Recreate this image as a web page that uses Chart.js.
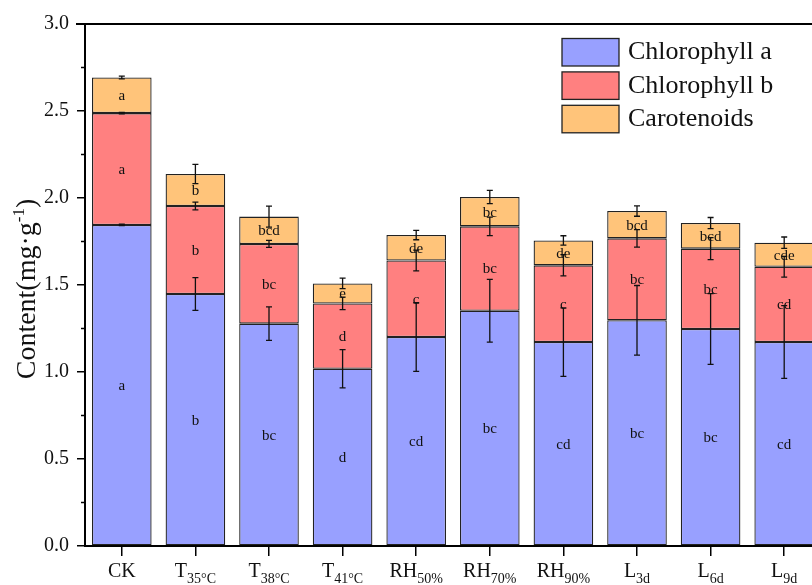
<!DOCTYPE html>
<html>
<head>
<meta charset="utf-8">
<script src="https://cdn.jsdelivr.net/npm/chart.js@4.4.1/dist/chart.umd.min.js"></script>
<style>
  html, body { margin: 0; padding: 0; background: #fff; overflow: hidden; }
  #wrap { width: 830px; height: 585px; }
</style>
</head>
<body>
<div id="wrap"><canvas id="c" width="830" height="585"></canvas></div>
<script>
// Treatment groups: main label and subscript part
const groupBase = ['CK', 'T', 'T', 'T', 'RH', 'RH', 'RH', 'L', 'L', 'L'];
const groupSub  = ['', '35°C', '38°C', '41°C', '50%', '70%', '90%', '3d', '6d', '9d'];

// Pigment contents (mg·g-1), stacked
const chlA = [1.845, 1.448, 1.278, 1.019, 1.201, 1.352, 1.172, 1.297, 1.247, 1.172];
const chlB = [0.643, 0.506, 0.458, 0.375, 0.440, 0.485, 0.441, 0.471, 0.462, 0.433];
const carot = [0.205, 0.184, 0.157, 0.115, 0.146, 0.169, 0.143, 0.157, 0.147, 0.138];

// Standard errors
const errA = [0.004, 0.094, 0.096, 0.110, 0.197, 0.180, 0.197, 0.200, 0.203, 0.209];
const errB = [0.004, 0.022, 0.020, 0.036, 0.060, 0.053, 0.061, 0.050, 0.063, 0.060];
const errCar = [0.008, 0.055, 0.060, 0.030, 0.027, 0.038, 0.027, 0.030, 0.032, 0.033];

// Significance letters
const sigA = ['a', 'b', 'bc', 'd', 'cd', 'bc', 'cd', 'bc', 'bc', 'cd'];
const sigB = ['a', 'b', 'bc', 'd', 'c', 'bc', 'c', 'bc', 'bc', 'cd'];
const sigCar = ['a', 'b', 'bcd', 'e', 'de', 'bc', 'de', 'bcd', 'bcd', 'cde'];

const seriesNames = ['Chlorophyll a', 'Chlorophyll b', 'Carotenoids'];
const seriesColors = ['#98a0ff', '#ff8080', '#ffc47a'];

const yTicks = { min: 0, max: 3, step: 0.5, minorStep: 0.25 };

const SERIF = '"Liberation Serif", "Times New Roman", serif';
const INK = '#111';

const values = [chlA, chlB, carot];
const errors = [errA, errB, errCar];
const letters = [sigA, sigB, sigCar];

// minor ticks on the y axis plus the top/right frame
const framePlugin = {
  id: 'frame',
  afterDraw(chart) {
    const { ctx, chartArea, scales } = chart;
    const y = scales.y;
    ctx.save();
    ctx.strokeStyle = '#000';
    ctx.lineWidth = 1.5;
    for (let v = yTicks.minorStep; v < yTicks.max; v += yTicks.step) {
      const py = y.getPixelForValue(v);
      ctx.beginPath();
      ctx.moveTo(chartArea.left - 4, py);
      ctx.lineTo(chartArea.left, py);
      ctx.stroke();
    }
    ctx.lineWidth = 2;
    ctx.beginPath();
    ctx.moveTo(chartArea.left - 9, chartArea.top);
    ctx.lineTo(chartArea.right, chartArea.top);
    ctx.lineTo(chartArea.right, chartArea.bottom);
    ctx.stroke();
    ctx.restore();
  }
};

// letters and error bars on each stacked segment
const annotPlugin = {
  id: 'annot',
  afterDatasetsDraw(chart) {
    const { ctx, scales } = chart;
    const y = scales.y;
    ctx.save();
    ctx.font = '15px ' + SERIF;
    ctx.fillStyle = INK;
    ctx.textAlign = 'center';
    ctx.textBaseline = 'middle';
    const n = groupBase.length;
    for (let j = 0; j < n; j++) {
      let base = 0;
      for (let i = 0; i < values.length; i++) {
        const x = chart.getDatasetMeta(i).data[j].x;
        const top = base + values[i][j];
        const mid = (y.getPixelForValue(base) + y.getPixelForValue(top)) / 2;
        ctx.fillText(letters[i][j], x, mid + 1);
        base = top;
      }
    }
    ctx.strokeStyle = INK;
    ctx.lineWidth = 1.3;
    for (let j = 0; j < n; j++) {
      let base = 0;
      for (let i = 0; i < values.length; i++) {
        const x = chart.getDatasetMeta(i).data[j].x;
        const top = base + values[i][j];
        const e = errors[i][j];
        const y1 = y.getPixelForValue(top + e);
        const y2 = y.getPixelForValue(top - e);
        ctx.beginPath();
        ctx.moveTo(x, y1); ctx.lineTo(x, y2);
        ctx.moveTo(x - 3, y1); ctx.lineTo(x + 3, y1);
        ctx.moveTo(x - 3, y2); ctx.lineTo(x + 3, y2);
        ctx.stroke();
        base = top;
      }
    }
    ctx.restore();
  }
};

// category labels with subscripts
const xLabelPlugin = {
  id: 'xlabels',
  afterDraw(chart) {
    const { ctx, scales } = chart;
    const x = scales.x;
    ctx.save();
    ctx.fillStyle = INK;
    ctx.textBaseline = 'alphabetic';
    ctx.textAlign = 'left';
    const baseY = x.bottom - 8;
    for (let i = 0; i < groupBase.length; i++) {
      const cx = x.getPixelForTick(i);
      ctx.font = '20px ' + SERIF;
      const w1 = ctx.measureText(groupBase[i]).width;
      ctx.font = '14px ' + SERIF;
      const w2 = ctx.measureText(groupSub[i]).width;
      const sx = cx - (w1 + w2) / 2;
      ctx.font = '20px ' + SERIF;
      ctx.fillText(groupBase[i], sx, baseY);
      ctx.font = '14px ' + SERIF;
      ctx.fillText(groupSub[i], sx + w1, baseY + 6);
    }
    ctx.restore();
  }
};

// rotated y-axis title with superscript
const yTitlePlugin = {
  id: 'ytitle',
  afterDraw(chart) {
    const { ctx, chartArea } = chart;
    const cy = (chartArea.top + chartArea.bottom) / 2 + 4;
    const parts = [
      { t: 'Content(mg·g', f: '28px ' + SERIF, dy: 0 },
      { t: '-1', f: '17px ' + SERIF, dy: -11 },
      { t: ')', f: '28px ' + SERIF, dy: 0 }
    ];
    ctx.save();
    ctx.translate(35, cy);
    ctx.rotate(-Math.PI / 2);
    ctx.fillStyle = INK;
    ctx.textBaseline = 'alphabetic';
    ctx.textAlign = 'left';
    let total = 0;
    parts.forEach(p => { ctx.font = p.f; p.w = ctx.measureText(p.t).width; total += p.w; });
    let px = -total / 2;
    parts.forEach(p => { ctx.font = p.f; ctx.fillText(p.t, px, p.dy); px += p.w; });
    ctx.restore();
  }
};

// legend box in the upper right
const legendPlugin = {
  id: 'legendBox',
  afterDraw(chart) {
    const { ctx } = chart;
    ctx.save();
    ctx.font = '26px ' + SERIF;
    ctx.textBaseline = 'middle';
    ctx.textAlign = 'left';
    for (let i = 0; i < seriesNames.length; i++) {
      const by = 38.5 + i * 33.4;
      ctx.fillStyle = seriesColors[i];
      ctx.fillRect(562, by, 57, 27.5);
      ctx.strokeStyle = '#222';
      ctx.lineWidth = 1.3;
      ctx.strokeRect(562, by, 57, 27.5);
      ctx.fillStyle = INK;
      ctx.fillText(seriesNames[i], 628, by + 14);
    }
    ctx.restore();
  }
};

new Chart(document.getElementById('c'), {
  type: 'bar',
  data: {
    labels: groupBase.map((b, i) => b + groupSub[i]),
    datasets: seriesNames.map((name, i) => ({
      label: name,
      data: values[i],
      backgroundColor: seriesColors[i],
      borderColor: '#222',
      borderWidth: 1.3,
      borderSkipped: false,
      barPercentage: 0.81,
      categoryPercentage: 1.0
    }))
  },
  options: {
    responsive: false,
    animation: false,
    layout: { padding: { top: 24, right: 9, left: 0, bottom: 0 } },
    plugins: { legend: { display: false }, tooltip: { enabled: false } },
    scales: {
      x: {
        stacked: true,
        offset: true,
        grid: { display: true, drawOnChartArea: false, drawTicks: true, tickLength: 10, color: '#000', lineWidth: 1.5, offset: false },
        border: { display: true, color: '#000', width: 2 },
        ticks: { display: false },
        afterFit(s) { s.height = 39; }
      },
      y: {
        stacked: true,
        min: yTicks.min,
        max: yTicks.max,
        ticks: {
          stepSize: yTicks.step,
          callback: v => Number(v).toFixed(1),
          font: { family: SERIF, size: 20 },
          color: INK,
          padding: 8
        },
        grid: { display: true, drawOnChartArea: false, drawTicks: true, tickLength: 8, color: '#000', lineWidth: 1.5 },
        border: { display: true, color: '#000', width: 2 },
        afterFit(s) { s.width = 85; }
      }
    }
  },
  plugins: [framePlugin, annotPlugin, xLabelPlugin, yTitlePlugin, legendPlugin]
});
</script>
</body>
</html>
